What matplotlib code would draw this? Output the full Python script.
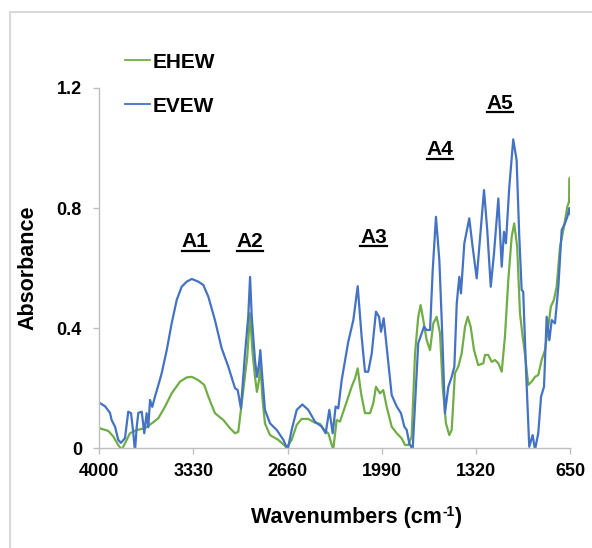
import matplotlib
matplotlib.use("Agg")
import matplotlib.pyplot as plt
from matplotlib.lines import Line2D
from matplotlib.patches import Rectangle

# ---------------- data ----------------
evew_wn = [4000, 3959, 3924, 3912, 3888, 3865, 3846, 3817, 3794, 3774, 3758, 3746, 3734, 3722,
           3698, 3680, 3663, 3651, 3639, 3623, 3604, 3580, 3556, 3520, 3485, 3449, 3414, 3378,
           3342, 3295, 3260, 3224, 3177, 3129, 3082, 3034, 3015, 2992, 2963, 2940, 2927, 2915,
           2892, 2878, 2863, 2854, 2840, 2821, 2785, 2737, 2690, 2659, 2631, 2595, 2555, 2513,
           2465, 2417, 2389, 2363, 2339, 2318, 2299, 2275, 2228, 2192, 2161, 2133, 2109, 2086,
           2061, 2031, 2009, 1995, 1976, 1955, 1919, 1883, 1853, 1829, 1812, 1794, 1770, 1746,
           1730, 1705, 1689, 1670, 1646, 1627, 1604, 1580, 1563, 1540, 1516, 1492, 1473, 1456,
           1438, 1426, 1402, 1367, 1343, 1314, 1290, 1262, 1239, 1214, 1191, 1160, 1136, 1120,
           1106, 1082, 1054, 1030, 1011, 994, 983, 963, 940, 916, 899, 876, 856, 835, 816, 797,
           780, 757, 733, 709, 686, 669, 655, 650]
evew_abs = [0.152, 0.140, 0.118, 0.094, 0.072, 0.028, 0.018, 0.034, 0.122, 0.117, 0.050, -0.01, 0.070,
            0.118, 0.122, 0.050, 0.117, 0.070, 0.161, 0.138, 0.172, 0.210, 0.250, 0.327, 0.416,
            0.494, 0.538, 0.555, 0.564, 0.555, 0.544, 0.505, 0.427, 0.333, 0.272, 0.200, 0.194,
            0.133, 0.316, 0.438, 0.571, 0.438, 0.294, 0.238, 0.283, 0.327, 0.238, 0.128, 0.083,
            0.061, 0.028, -0.005, 0.061, 0.128, 0.146, 0.128, 0.089, 0.072, 0.050, 0.128, 0.050,
            0.139, 0.133, 0.227, 0.355, 0.427, 0.540, 0.372, 0.255, 0.255, 0.316, 0.455, 0.438,
            0.388, 0.433, 0.338, 0.177, 0.139, 0.117, 0.072, 0.061, 0.017, -0.005, 0.205, 0.350,
            0.383, 0.405, 0.394, 0.394, 0.594, 0.771, 0.627, 0.427, 0.117, 0.205, 0.238, 0.272,
            0.483, 0.571, 0.516, 0.683, 0.766, 0.671, 0.566, 0.700, 0.860, 0.727, 0.538, 0.649,
            0.832, 0.605, 0.721, 0.683, 0.871, 1.029, 0.960, 0.705, 0.527, 0.522, 0.260, 0.005,
            0.044, -0.005, 0.050, 0.172, 0.205, 0.438, 0.360, 0.427, 0.416, 0.538, 0.727, 0.749,
            0.771, 0.800, 0.780]

ehew_wn = [4000, 3936, 3900, 3865, 3841, 3805, 3782, 3734, 3675, 3627, 3580, 3532, 3485, 3426,
           3378, 3342, 3295, 3253, 3224, 3177, 3117, 3070, 3034, 3011, 2975, 2947, 2927, 2911,
           2892, 2878, 2863, 2854, 2840, 2821, 2785, 2726, 2666, 2631, 2595, 2560, 2513, 2465,
           2429, 2399, 2370, 2335, 2311, 2287, 2251, 2204, 2180, 2161, 2137, 2109, 2073, 2050,
           2031, 2002, 1979, 1955, 1919, 1883, 1848, 1824, 1801, 1777, 1753, 1730, 1713, 1694,
           1670, 1646, 1623, 1599, 1575, 1556, 1533, 1509, 1492, 1469, 1445, 1421, 1397, 1378,
           1357, 1333, 1303, 1267, 1255, 1232, 1207, 1184, 1160, 1136, 1113, 1089, 1065, 1047,
           1026, 1006, 987, 971, 947, 923, 899, 876, 852, 828, 805, 786, 765, 745, 721, 693,
           669, 657, 652, 650]
ehew_abs = [0.067, 0.058, 0.039, 0.011, -0.005, 0.028, 0.050, 0.061, 0.067, 0.083, 0.100, 0.139,
            0.183, 0.222, 0.236, 0.238, 0.227, 0.211, 0.172, 0.117, 0.094, 0.067, 0.050, 0.055,
            0.194, 0.305, 0.450, 0.327, 0.238, 0.188, 0.227, 0.294, 0.172, 0.083, 0.044, 0.028,
            0.003, 0.028, 0.078, 0.098, 0.098, 0.085, 0.081, 0.061, 0.050, -0.005, 0.094, 0.089,
            0.139, 0.205, 0.233, 0.266, 0.183, 0.117, 0.117, 0.150, 0.205, 0.183, 0.194, 0.139,
            0.072, 0.050, 0.033, 0.011, 0.011, 0.039, 0.316, 0.438, 0.477, 0.427, 0.360, 0.327,
            0.416, 0.438, 0.383, 0.205, 0.083, 0.044, 0.061, 0.250, 0.272, 0.316, 0.405, 0.438,
            0.405, 0.327, 0.277, 0.283, 0.311, 0.311, 0.288, 0.294, 0.283, 0.255, 0.372, 0.561,
            0.705, 0.749, 0.671, 0.450, 0.372, 0.316, 0.211, 0.222, 0.238, 0.244, 0.294, 0.327,
            0.405, 0.472, 0.494, 0.538, 0.671, 0.738, 0.805, 0.820, 0.900, 0.850]

series_names = ["EHEW", "EVEW"]
x_ticks = [4000, 3330, 2660, 1990, 1320, 650]
y_ticks = [0, 0.4, 0.8, 1.2]
y_tick_labels = ["0", "0.4", "0.8", "1.2"]
band_labels = ["A1", "A2", "A3", "A4", "A5"]
band_x = [3318, 2928, 2049, 1575, 1148]
band_y = [0.688, 0.688, 0.703, 0.994, 1.150]

GREEN = "#70AD47"
BLUE = "#4472C4"

plt.rcParams['font.family'] = ['Liberation Sans', 'DejaVu Sans']
plt.rcParams['font.weight'] = 'bold'

fig = plt.figure(figsize=(5.92, 5.48), dpi=100)
ax = fig.add_axes([99.3 / 592, 99.7 / 548, 470.7 / 592, 360.3 / 548])

# chart outer border
fig.patches.append(Rectangle((10 / 592, -0.2), 1.2, 1.2 - 12 / 548,
                             transform=fig.transFigure, fill=False,
                             edgecolor="#D9D9D9", linewidth=1.5, zorder=0))

l1, = ax.plot(ehew_wn, ehew_abs, color=GREEN, lw=1.6, label=series_names[0])
l2, = ax.plot(evew_wn, evew_abs, color=BLUE, lw=1.6, label=series_names[1])

ax.set_xlim(4000, 650)
ax.set_ylim(0, 1.2)
ax.set_xticks(x_ticks)
ax.set_xticklabels([str(t) for t in x_ticks])
ax.set_yticks(y_ticks)
ax.set_yticklabels(y_tick_labels)

for s in ["top", "right"]:
    ax.spines[s].set_visible(False)
for s in ["left", "bottom"]:
    ax.spines[s].set_color("#BFBFBF")
    ax.spines[s].set_linewidth(1.0)
ax.tick_params(axis="both", direction="out", length=4.5, width=1.0, color="#BFBFBF",
               labelsize=13, labelcolor="black")
ax.tick_params(axis="x", pad=6)
ax.tick_params(axis="y", pad=8)
for lab in ax.get_xticklabels() + ax.get_yticklabels():
    lab.set_fontweight("bold")

# x label built from main text + small superscript
ax.set_ylabel("Absorbance", fontsize=15.5, fontweight="bold")
ax.yaxis.set_label_coords((28 - 99.3) / 470.7, 0.502)
ax.yaxis.label.set_va("center")

xl_main = fig.text(0, 0, "Wavenumbers (cm", fontsize=15.5, fontweight="bold",
                   ha="left", va="baseline")
xl_sup = fig.text(0, 0, "-1", fontsize=10, fontweight="bold", ha="left", va="baseline")
xl_end = fig.text(0, 0, ")", fontsize=15.5, fontweight="bold", ha="left", va="baseline")

leg = fig.legend(handles=[l1, l2], loc="center left",
                 bbox_to_anchor=(125 / 592, 1 - 84 / 548), frameon=False,
                 prop={"size": 15, "weight": "bold"}, handlelength=1.2,
                 handletextpad=0.15, labelspacing=1.2, borderpad=0, borderaxespad=0)
for line in leg.get_lines():
    line.set_linewidth(1.3)

texts = []
for lab, bx, by in zip(band_labels, band_x, band_y):
    t = ax.text(bx, by, lab, ha="center", va="center", fontsize=15, fontweight="bold",
                clip_on=False)
    texts.append(t)

fig.canvas.draw()
r = fig.canvas.get_renderer()
W, H = 592, 548
w1 = xl_main.get_window_extent(r).width
w2 = xl_sup.get_window_extent(r).width
w3 = xl_end.get_window_extent(r).width
total = w1 + w2 + w3
cx = 356.5
base = H - 523.0
x0 = cx - total / 2
xl_main.set_position((x0 / W, base / H))
xl_sup.set_position(((x0 + w1) / W, (base + 7) / H))
xl_end.set_position(((x0 + w1 + w2) / W, base / H))

for t in texts:
    bb = t.get_window_extent(r)
    y = bb.y0 + 0.5
    fig.add_artist(Line2D([bb.x0 / W, bb.x1 / W], [y / H, y / H],
                          transform=fig.transFigure, color="black", lw=1.6))

fig.savefig("out.png", dpi=100)
